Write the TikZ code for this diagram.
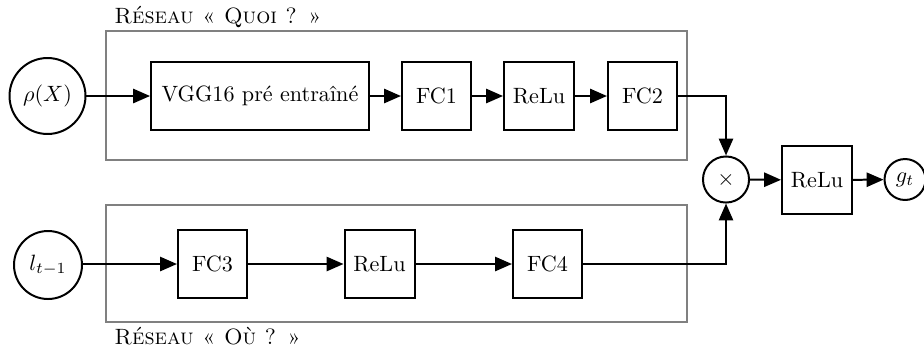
\documentclass[tikz,border=0pt]{standalone}
\usetikzlibrary{arrows.meta,calc}
\begin{document}
\begin{tikzpicture}[
  x=0.4515pt, y=-0.4515pt,
  block/.style={draw, line width=0.9pt, minimum height=30.7pt, minimum width=31.2pt, inner sep=2pt},
  io/.style={draw, circle, line width=0.9pt, inner sep=0pt},
  group/.style={draw=black!50, line width=0.9pt, minimum width=262.3pt, inner sep=0pt},
  grouplabel/.style={inner sep=0pt, font=\scshape},
  flow/.style={line width=0.9pt, -{Triangle[length=7.6pt, width=6.4pt]}}
]
\useasboundingbox (0,0) rectangle (924,353);

% network outlines
\node[group, minimum height=58.2pt] (what) at (396.5,95.5) {};
\node[group, minimum height=52.8pt] (where) at (396.5,263.5) {};
\node[grouplabel, anchor=base west] (whatlbl) at ($(what.north west)+(9,-7)$) {Réseau « Quoi ? »};
\node[grouplabel, anchor=north west] (wherelbl) at ($(where.south west)+(9,4)$) {Réseau « Où ? »};

% "what" branch
\node[io, minimum size=34.3pt] (rho) at (47.5,96) {$\rho(X)$};
\node[block, minimum width=98.4pt] (vgg) at (260,96) {VGG16 pré entraîné};
\node[block] (fc1) at (436.5,96) {FC1};
\node[block, minimum width=31.6pt] (relu1) at (539,96) {ReLu};
\node[block] (fc2) at (642.5,96) {FC2};

% "where" branch
\node[io, minimum size=30.7pt] (loc) at (48,265) {$l_{t-1}$};
\node[block] (fc3) at (212.5,264) {FC3};
\node[block, minimum width=31.6pt] (relu2) at (379.5,264) {ReLu};
\node[block] (fc4) at (547.5,264) {FC4};

% merge and output
\node[io, minimum size=20.8pt] (prod) at (726,179.5) {$\times$};
\node[block, minimum width=31.6pt] (relu3) at (817,180) {ReLu};
\node[io, minimum size=18.5pt] (out) at (905,179.5) {$g_t$};

\draw[flow] (rho) -- (vgg);
\draw[flow] (vgg) -- (fc1);
\draw[flow] (fc1) -- (relu1);
\draw[flow] (relu1) -- (fc2);
\draw[flow] (fc2.east) -| (prod.north);

\draw[flow] (loc.east |- fc3) -- (fc3);
\draw[flow] (fc3) -- (relu2);
\draw[flow] (relu2) -- (fc4);
\draw[flow] (fc4.east) -| (prod.south);

\draw[flow] (prod) -- (relu3);
\draw[flow] (relu3) -- (out);
\end{tikzpicture}
\end{document}
